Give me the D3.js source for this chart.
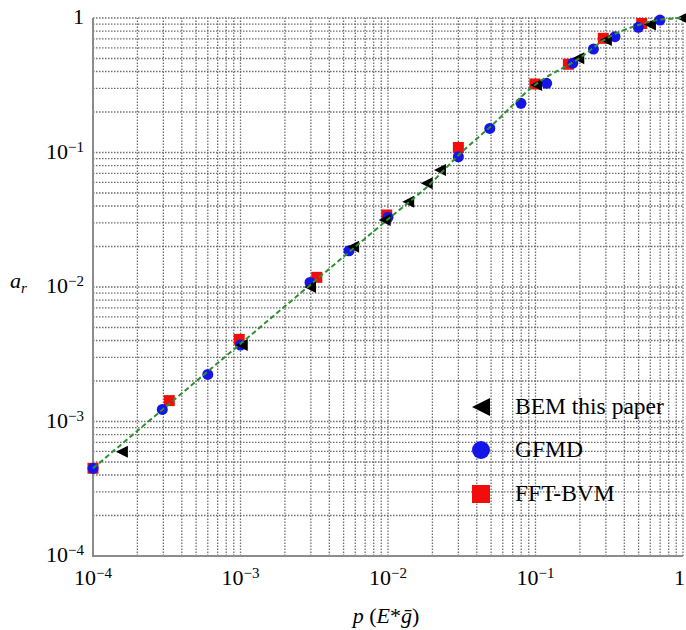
<!DOCTYPE html>
<html>
<head>
<meta charset="utf-8">
<script src="https://cdn.jsdelivr.net/npm/d3@7"></script>
<style>
  html, body { margin: 0; padding: 0; background: #fff; }
  svg { display: block; }
  text { font-family: "Liberation Serif", "Times New Roman", serif; fill: #000; }
</style>
</head>
<body>
<svg id="chart" width="686" height="630"></svg>
<script>
// ---- data ----
const tickExponents = [-4, -3, -2, -1, 0];

const bemP = [1.57e-4, 1.02e-3, 2.96e-3, 5.8e-3, 9.5e-3, 1.37e-2, 1.83e-2, 2.25e-2, 0.101, 0.195, 0.30, 0.597, 0.99];
const bemA = [5.96e-4, 3.7e-3, 1.0e-2, 1.99e-2, 3.15e-2, 4.31e-2, 5.9e-2, 7.41e-2, 0.318, 0.502, 0.686, 0.895, 1.0];

const gfmdP = [1e-4, 2.95e-4, 6.0e-4, 1.0e-3, 2.96e-3, 5.44e-3, 1.0e-2, 3.0e-2, 4.9e-2, 7.97e-2, 0.119, 0.179, 0.247, 0.346, 0.498, 0.698];
const gfmdA = [4.49e-4, 1.23e-3, 2.24e-3, 3.7e-3, 1.08e-2, 1.86e-2, 3.3e-2, 9.3e-2, 0.151, 0.232, 0.327, 0.461, 0.588, 0.726, 0.852, 0.966];

const fftP = [1e-4, 3.29e-4, 9.8e-4, 3.29e-3, 9.8e-3, 3.0e-2, 0.099, 0.167, 0.288, 0.525];
const fftA = [4.49e-4, 1.43e-3, 4.08e-3, 1.18e-2, 3.43e-2, 0.109, 0.323, 0.453, 0.706, 0.91];

const curveP = [1e-4, 1e-3, 1e-2, 2e-2, 3e-2, 5e-2, 0.1, 0.2, 0.3, 0.5, 0.7, 1.0];
const curveA = [4.49e-4, 3.78e-3, 3.19e-2, 6.05e-2, 0.0953, 0.157, 0.32, 0.505, 0.70, 0.887, 0.972, 1.0];

const legendLabels = ["BEM this paper", "GFMD", "FFT-BVM"];

// ---- layout ----
const svg = d3.select("#chart");
svg.append("rect").attr("width", 686).attr("height", 630).attr("fill", "#fff");

const x = d3.scaleLog().domain([1e-4, 1]).range([93, 683]);
const y = d3.scaleLog().domain([1e-4, 1]).range([556, 18]);

// grid
const gridX = x.ticks();
const gridY = y.ticks();
const grid = svg.append("g")
  .attr("stroke", "#6e6e6e").attr("stroke-width", 1.3)
  .attr("stroke-dasharray", "1.5 1.5");
grid.selectAll("line.gx").data(gridX).join("line")
  .attr("class", "gx")
  .attr("x1", d => x(d)).attr("x2", d => x(d))
  .attr("y1", y(1e-4)).attr("y2", y(1));
grid.selectAll("line.gy").data(gridY).join("line")
  .attr("class", "gy")
  .attr("y1", d => y(d)).attr("y2", d => y(d))
  .attr("x1", x(1e-4)).attr("x2", x(1));

// axes lines
svg.append("line").attr("x1", x(1e-4)).attr("x2", x(1e-4)).attr("y1", y(1)).attr("y2", y(1e-4) + 1)
  .attr("stroke", "#8c8c8c").attr("stroke-width", 2);
svg.append("line").attr("x1", x(1e-4) - 1).attr("x2", x(1)).attr("y1", y(1e-4)).attr("y2", y(1e-4))
  .attr("stroke", "#8c8c8c").attr("stroke-width", 2);

// tick labels
function addPow(sel, e) {
  if (e === 0) { sel.append("tspan").text("1"); return; }
  sel.append("tspan").text("10");
  sel.append("tspan").attr("font-size", 15).attr("dy", -7).text("\u2212" + Math.abs(e));
}
tickExponents.forEach(e => {
  const v = Math.pow(10, e);
  const last = e === 0;
  const tx = svg.append("text").attr("x", last ? 685 : x(v)).attr("y", 585)
    .attr("text-anchor", last ? "end" : "middle").attr("font-size", 22);
  addPow(tx, e);
  const ty = svg.append("text").attr("x", 84).attr("y", y(v) + 6)
    .attr("text-anchor", "end").attr("font-size", 22);
  addPow(ty, e);
});

// axis titles
const yt = svg.append("text").attr("x", 10).attr("y", 288).attr("font-size", 22);
yt.append("tspan").attr("font-style", "italic").text("a");
yt.append("tspan").attr("font-style", "italic").attr("font-size", 15).attr("dy", 5).text("r");

const xt = svg.append("text").attr("x", 386).attr("y", 623).attr("text-anchor", "middle").attr("font-size", 22);
xt.append("tspan").attr("font-style", "italic").text("p");
xt.append("tspan").text(" (");
xt.append("tspan").attr("font-style", "italic").text("E");
xt.append("tspan").text("*");
xt.append("tspan").attr("font-style", "italic").text("\u1E21");
xt.append("tspan").text(")");

// markers
const triPath = (w) => `M${-w/2},0 L${w/2},${-w/2} L${w/2},${w/2} Z`;

const fft = fftP.map((p, i) => ({p, a: fftA[i]}));
const gfmd = gfmdP.map((p, i) => ({p, a: gfmdA[i]}));
const bem = bemP.map((p, i) => ({p, a: bemA[i]}));

svg.append("g").selectAll("rect").data(fft).join("rect")
  .attr("x", d => x(d.p) - 5.5).attr("y", d => y(d.a) - 5.5)
  .attr("width", 11).attr("height", 11).attr("fill", "#f20d0d");
svg.append("g").selectAll("circle").data(gfmd).join("circle")
  .attr("cx", d => x(d.p)).attr("cy", d => y(d.a)).attr("r", 5.5).attr("fill", "#1515e8");
svg.append("g").selectAll("path").data(bem).join("path")
  .attr("transform", d => `translate(${x(d.p)},${y(d.a)})`)
  .attr("d", triPath(12)).attr("fill", "#000");

// dashed curve
const curve = curveP.map((p, i) => ({p, a: curveA[i]}));
svg.append("path").datum(curve)
  .attr("d", d3.line().x(d => x(d.p)).y(d => y(d.a)).curve(d3.curveMonotoneX))
  .attr("fill", "none").attr("stroke", "#2f8f2f").attr("stroke-width", 2)
  .attr("stroke-dasharray", "5 3");

// legend
const legX = 481, legY = [407, 450, 494];
svg.append("path").attr("transform", `translate(${legX},${legY[0]})`).attr("d", triPath(18)).attr("fill", "#000");
svg.append("circle").attr("cx", legX).attr("cy", legY[1]).attr("r", 9).attr("fill", "#1515e8");
svg.append("rect").attr("x", legX - 9).attr("y", legY[2] - 9).attr("width", 18).attr("height", 18).attr("fill", "#f20d0d");
legendLabels.forEach((t, i) => {
  svg.append("text").attr("x", 515).attr("y", legY[i] + 7).attr("font-size", 23.5).text(t);
});
</script>
</body>
</html>
